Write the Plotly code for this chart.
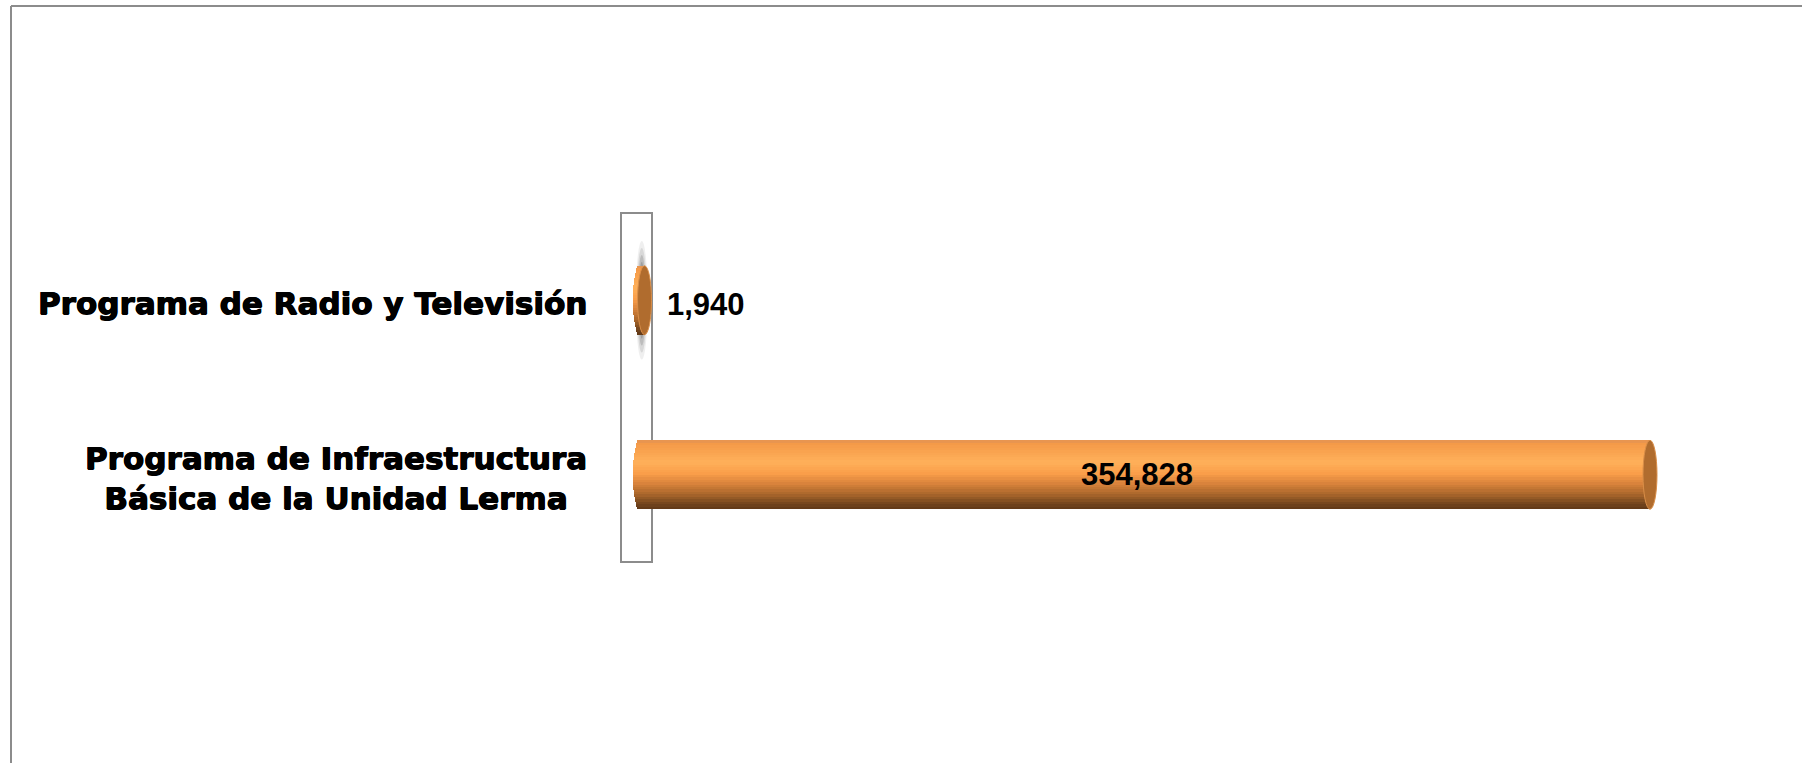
import math
import plotly.graph_objects as go


# ======================================================
# Data
# ======================================================

categories = [
    "Programa de Infraestructura<br>Básica de la Unidad Lerma",
    "Programa de Radio y Televisión",
]
values = [354828, 1940]
value_labels = ["354,828", "1,940"]


# ======================================================
# Layout constants (pixels)
# ======================================================

W, H = 1802, 763
ZERO_X = 639          # where the value axis starts
PLOT_L, PLOT_R = 600, 1790
PLOT_T, PLOT_B = 213, 562
UNITS_PER_PX = 354828 / 1011
BAR_W = 0.395
N_SLICES = 28


def px(n):
    # pixels -> data units along x
    return n * UNITS_PER_PX


def paper_x(p):
    return (p - PLOT_L) / (PLOT_R - PLOT_L)


def paper_y(p):
    return (PLOT_B - p) / (PLOT_B - PLOT_T)


X_RANGE = [-px(ZERO_X - PLOT_L), px(PLOT_R - ZERO_X)]

# cylinder shading, top -> bottom
stops = [
    (0.00, (226, 146, 84)),
    (0.05, (244, 154, 72)),
    (0.32, (255, 176, 90)),
    (0.48, (250, 158, 74)),
    (0.62, (218, 132, 60)),
    (0.78, (172, 104, 44)),
    (0.92, (116, 70, 30)),
    (1.00, (96, 56, 24)),
]


def shade(t):
    for (a, ca), (b, cb) in zip(stops, stops[1:]):
        if a <= t <= b:
            f = (t - a) / (b - a)
            c = [round(ca[i] + (cb[i] - ca[i]) * f) for i in range(3)]
            return f"rgb({c[0]},{c[1]},{c[2]})"
    return "rgb(96,56,24)"


fig = go.Figure()

# ======================================================
# Bars, drawn as horizontal slices for the cylinder look
# ======================================================

for k in range(N_SLICES):
    t = (k + 0.5) / N_SLICES
    u = 2 * t - 1
    dx = px(6) * math.sqrt(max(0.0, 1 - u * u))
    fig.add_trace(go.Bar(
        y=categories,
        x=[v + dx for v in values],
        base=[-dx] * len(values),
        orientation="h",
        width=BAR_W / N_SLICES + 0.0005,
        offset=BAR_W / 2 - (k + 1) * BAR_W / N_SLICES,
        marker=dict(color=shade(t), line=dict(width=0)),
        hoverinfo="skip",
        showlegend=False,
    ))

shapes = []

# plot wall box
shapes.append(dict(
    type="rect", xref="paper", yref="paper",
    x0=paper_x(621), x1=paper_x(652), y0=0, y1=1,
    line=dict(color="#8c8c8c", width=2), fillcolor="rgba(0,0,0,0)",
    layer="below",
))

# outer chart border (top and left)
shapes.append(dict(
    type="line", xref="paper", yref="paper",
    x0=paper_x(11), x1=paper_x(1810), y0=paper_y(6), y1=paper_y(6),
    line=dict(color="#8c8c8c", width=2),
))
shapes.append(dict(
    type="line", xref="paper", yref="paper",
    x0=paper_x(11), x1=paper_x(11), y0=paper_y(6), y1=paper_y(770),
    line=dict(color="#8c8c8c", width=2),
))

for i, v in enumerate(values):
    small = v < 0.05 * max(values)
    if small:
        # soft shadow around the tiny bar
        for hy, hx, op in [(0.34, 6, 0.10), (0.30, 5, 0.16), (0.26, 4, 0.24), (0.22, 3, 0.32)]:
            shapes.append(dict(
                type="circle", xref="x", yref="y",
                x0=v / 2 - px(hx), x1=v / 2 + px(hx),
                y0=i - hy, y1=i + hy,
                line=dict(width=0), fillcolor=f"rgba(100,100,100,{op})",
                layer="below",
            ))
    # end cap
    shapes.append(dict(
        type="circle", xref="x", yref="y",
        x0=v - px(7), x1=v + px(7),
        y0=i - BAR_W / 2, y1=i + BAR_W / 2,
        line=dict(color="#d98e48", width=1),
        fillcolor="#b06c2e",
    ))

# ======================================================
# Labels
# ======================================================

cat_font = dict(
    family="DejaVu Sans", size=31, color="black", weight="bold",
    shadow="0.6px 0 0 #000, -0.6px 0 0 #000, 0 0.5px 0 #000",
)
val_font = dict(family="Liberation Sans, Arial", size=31, color="black", weight="bold")

annotations = []
for i, (cat, v, lab) in enumerate(zip(categories, values, value_labels)):
    annotations.append(dict(
        xref="paper", yref="y", x=paper_x(ZERO_X), y=cat,
        text=cat, showarrow=False,
        xanchor="right", yanchor="middle", align="center",
        xshift=-50, yshift=-3, font=cat_font,
    ))
    if v < 0.1 * max(values):
        annotations.append(dict(
            xref="x", yref="y", x=v, y=cat, text=lab, showarrow=False,
            xanchor="left", yanchor="middle", xshift=20, yshift=-4,
            font=val_font,
        ))
    else:
        annotations.append(dict(
            xref="x", yref="y", x=v / 2, y=cat, text=lab, showarrow=False,
            xanchor="center", yanchor="middle", xshift=-8, yshift=0,
            font=val_font,
        ))

fig.update_layout(
    width=W,
    height=H,
    barmode="overlay",
    bargap=0,
    plot_bgcolor="white",
    paper_bgcolor="white",
    margin=dict(l=PLOT_L, r=W - PLOT_R, t=PLOT_T, b=H - PLOT_B, autoexpand=False),
    xaxis=dict(range=X_RANGE, visible=False, fixedrange=True),
    yaxis=dict(
        type="category",
        categoryorder="array",
        categoryarray=categories,
        range=[-0.5, 1.5],
        visible=False,
        fixedrange=True,
    ),
    shapes=shapes,
    annotations=annotations,
    showlegend=False,
)

fig.write_html(
    "out.html",
    config={"displayModeBar": False},
    post_script="document.body.style.margin='0px';",
)
